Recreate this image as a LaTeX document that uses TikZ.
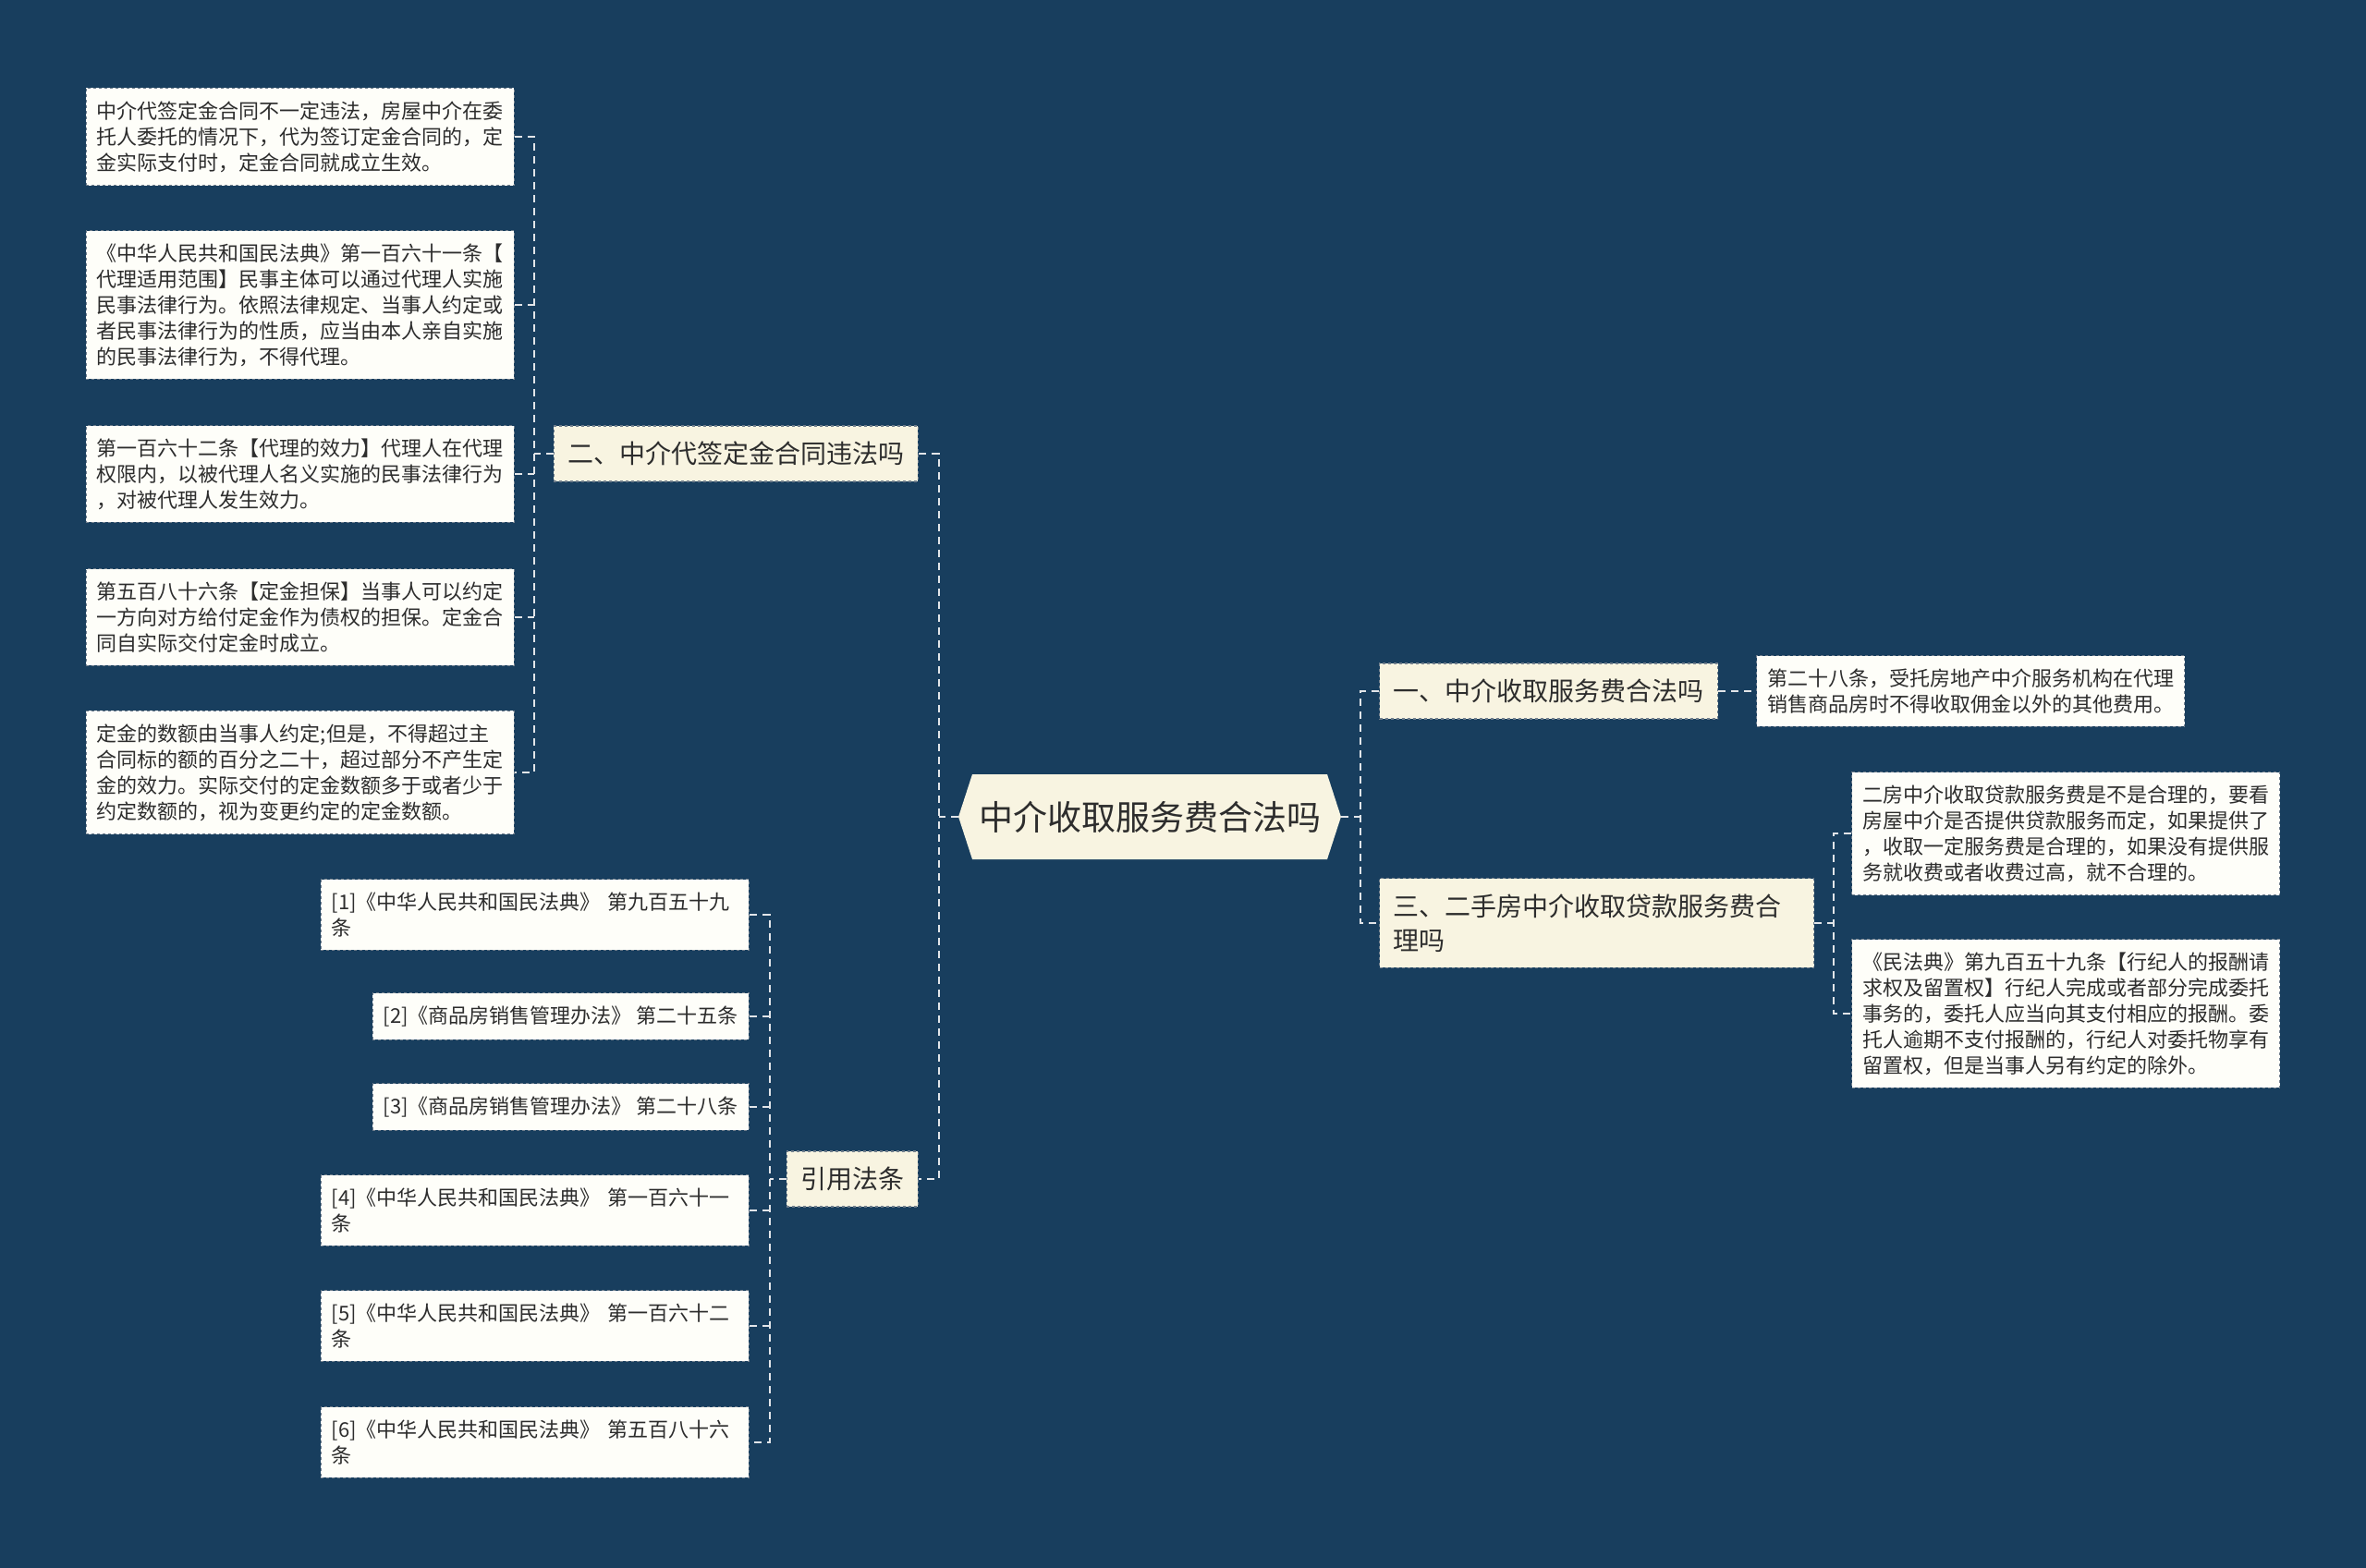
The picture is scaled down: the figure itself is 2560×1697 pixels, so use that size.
\documentclass[tikz,border=0pt]{standalone}
\usepackage{fontspec}
\newfontfamily\cjk{Noto Sans CJK SC}
\usetikzlibrary{shapes.symbols}
\definecolor{bgc}{RGB}{24,62,94}
\definecolor{creamc}{RGB}{248,244,225}
\definecolor{leafc}{RGB}{254,254,249}
\definecolor{textc}{RGB}{45,45,45}
\definecolor{linkc}{RGB}{226,229,233}
\definecolor{edgec}{RGB}{112,126,140}

\begin{document}
\begin{tikzpicture}[x=1pt,y=-1pt,
    link/.style={draw=linkc, line width=2.5pt, dash pattern=on 8pt off 6pt},
    topic/.style={signal, signal to=east and west, signal pointer angle=144, fill=creamc, text=textc,
        font=\cjk\fontsize{37}{44}\selectfont, minimum height=92pt, inner xsep=7pt},
    branch/.style={draw=edgec, dashed, line width=1.2pt, fill=creamc, text=textc,
        font=\cjk\fontsize{28}{37}\selectfont, inner xsep=15pt, inner ysep=17pt, align=left},
    leaf/.style={draw=edgec, dashed, line width=1.2pt, fill=leafc, text=textc,
        font=\cjk\fontsize{22}{28}\selectfont, inner xsep=11.5pt, inner ysep=14pt, align=left},
    wide/.style={text width=440pt}]
        \path[use as bounding box, fill=bgc] (0,0) rectangle (2560,1697);

        \node[topic] at (1244,884) (root) {中介收取服务费合法吗};

        \node[branch, anchor=east] at (994,491) (b2) {二、中介代签定金合同违法吗};
        \node[branch, anchor=east] at (994,1276) (b0) {引用法条};
        \node[branch, anchor=west] at (1492,748) (b1) {一、中介收取服务费合法吗};
        \node[branch, anchor=west, wide] at (1492,999) (b3) {三、二手房中介收取贷款服务费合\\理吗};

        \node[leaf, wide, anchor=east] at (557,148) (l1) {中介代签定金合同不一定违法，房屋中介在委\\托人委托的情况下，代为签订定金合同的，定\\金实际支付时，定金合同就成立生效。};
        \node[leaf, wide, anchor=east] at (557,330) (l2) {《中华人民共和国民法典》第一百六十一条【\\代理适用范围】民事主体可以通过代理人实施\\民事法律行为。依照法律规定、当事人约定或\\者民事法律行为的性质，应当由本人亲自实施\\的民事法律行为，不得代理。};
        \node[leaf, wide, anchor=east] at (557,513) (l3) {第一百六十二条【代理的效力】代理人在代理\\权限内，以被代理人名义实施的民事法律行为\\，对被代理人发生效力。};
        \node[leaf, wide, anchor=east] at (557,668) (l4) {第五百八十六条【定金担保】当事人可以约定\\一方向对方给付定金作为债权的担保。定金合\\同自实际交付定金时成立。};
        \node[leaf, wide, anchor=east] at (557,836) (l5) {定金的数额由当事人约定;但是，不得超过主\\合同标的额的百分之二十，超过部分不产生定\\金的效力。实际交付的定金数额多于或者少于\\约定数额的，视为变更约定的定金数额。};

        \node[leaf, wide, anchor=east] at (811,990) (c1) {[1]《中华人民共和国民法典》~第九百五十九\\条};
        \node[leaf, anchor=east] at (811,1100) (c2) {[2]《商品房销售管理办法》~第二十五条};
        \node[leaf, anchor=east] at (811,1198) (c3) {[3]《商品房销售管理办法》~第二十八条};
        \node[leaf, wide, anchor=east] at (811,1310) (c4) {[4]《中华人民共和国民法典》~第一百六十一\\条};
        \node[leaf, wide, anchor=east] at (811,1435) (c5) {[5]《中华人民共和国民法典》~第一百六十二\\条};
        \node[leaf, wide, anchor=east] at (811,1561) (c6) {[6]《中华人民共和国民法典》~第五百八十六\\条};

        \node[leaf, wide, anchor=west] at (1900,748) (r1) {第二十八条，受托房地产中介服务机构在代理\\销售商品房时不得收取佣金以外的其他费用。};
        \node[leaf, wide, anchor=west] at (2003,902) (r2) {二房中介收取贷款服务费是不是合理的，要看\\房屋中介是否提供贷款服务而定，如果提供了\\，收取一定服务费是合理的，如果没有提供服\\务就收费或者收费过高，就不合理的。};
        \node[leaf, wide, anchor=west] at (2003,1097) (r3) {《民法典》第九百五十九条【行纪人的报酬请\\求权及留置权】行纪人完成或者部分完成委托\\事务的，委托人应当向其支付相应的报酬。委\\托人逾期不支付报酬的，行纪人对委托物享有\\留置权，但是当事人另有约定的除外。};

        \draw[link] (root.west) -- ++(-21,0) coordinate (tl);
        \draw[link] (b2.east) -- (b2.east -| tl) -- (b0.east -| tl) -- (b0.east);
        \draw[link] (root.east) -- ++(21,0) coordinate (tr);
        \draw[link] (b1.west) -- (b1.west -| tr) -- (b3.west -| tr) -- (b3.west);

        \draw[link] (b2.west) -- ++(-21,0) coordinate (t2);
        \draw[link] (l1.east) -- (l1.east -| t2) -- (l5.east -| t2) -- (l5.east);
        \foreach \n in {l2,l3,l4}
            \draw[link] (\n.east) -- (\n.east -| t2);

        \draw[link] (b0.west) -- ++(-18,0) coordinate (t0);
        \draw[link] (c1.east) -- (c1.east -| t0) -- (c6.east -| t0) -- (c6.east);
        \foreach \n in {c2,c3,c4,c5}
            \draw[link] (\n.east) -- (\n.east -| t0);

        \draw[link] (b1.east) -- (r1.west);
        \draw[link] (b3.east) -- ++(21,0) coordinate (t3);
        \draw[link] (r2.west) -- (r2.west -| t3) -- (r3.west -| t3) -- (r3.west);
    \end{tikzpicture}
\end{document}
